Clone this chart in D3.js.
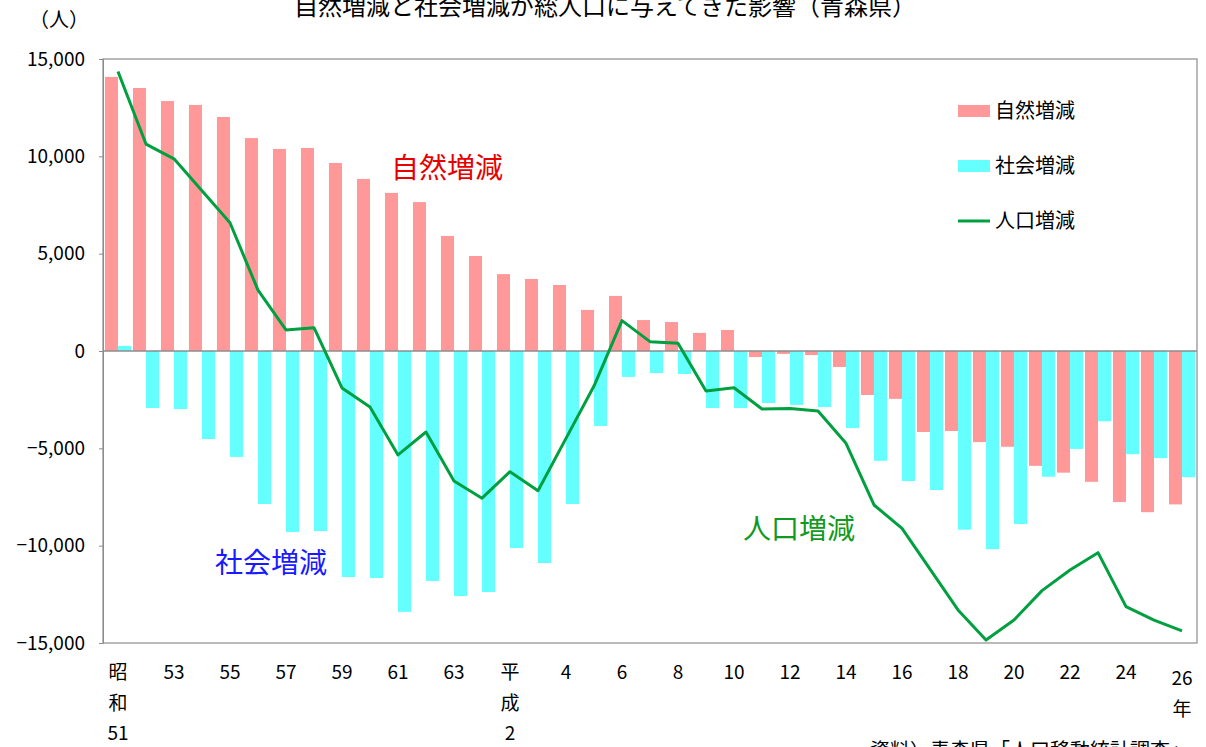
<!DOCTYPE html>
<html><head><meta charset="utf-8">
<script src="https://cdn.jsdelivr.net/npm/d3@7"></script>
<style>body{margin:0;background:#fff}svg{display:block}text{font-family:"Noto Sans CJK JP","Noto Sans",sans-serif}</style>
</head><body><svg id="c" width="1206" height="747"></svg>
<script>
const years = ["S51","S52","S53","S54","S55","S56","S57","S58","S59","S60","S61","S62","S63","H1","H2","H3","H4","H5","H6","H7","H8","H9","H10","H11","H12","H13","H14","H15","H16","H17","H18","H19","H20","H21","H22","H23","H24","H25","H26"];
const natural = [14080,13510,12840,12640,12020,10940,10380,10430,9660,8840,8120,7650,5910,4880,3950,3700,3390,2110,2830,1590,1490,930,1080,-310,-150,-210,-820,-2260,-2460,-4160,-4110,-4680,-4920,-5900,-6250,-6720,-7760,-8280,-7880];
const social = [260,-2930,-2980,-4520,-5440,-7860,-9300,-9250,-11610,-11660,-13400,-11810,-12590,-12380,-10120,-10890,-7860,-3850,-1330,-1130,-1180,-2930,-2930,-2670,-2770,-2880,-3960,-5640,-6680,-7140,-9180,-10180,-8890,-6460,-5030,-3610,-5300,-5500,-6480];
const total = [14360,10630,9870,8230,6590,3130,1080,1200,-1900,-2880,-5340,-4160,-6680,-7560,-6200,-7180,-4490,-1800,1560,480,400,-2060,-1890,-2980,-2950,-3080,-4740,-7910,-9110,-11200,-13300,-14850,-13820,-12310,-11250,-10360,-13130,-13820,-14380];
const xTickLabels = [[0,["昭","和","51"]],[2,["53"]],[4,["55"]],[6,["57"]],[8,["59"]],[10,["61"]],[12,["63"]],[14,["平","成","2"]],[16,["4"]],[18,["6"]],[20,["8"]],[22,["10"]],[24,["12"]],[26,["14"]],[28,["16"]],[30,["18"]],[32,["20"]],[34,["22"]],[36,["24"]],[38,["26","年"]]];
const yTicks = [-15000,-10000,-5000,0,5000,10000,15000];
const seriesNames = ["自然増減","社会増減","人口増減"];
const colors = {nat:"#ff9999", soc:"#66ffff", line:"#00a040"};

const svg = d3.select("#c");
const L=103,R=1197,T=59,B=643;
const idx = d3.range(years.length);
const x = d3.scaleBand().domain(idx).range([L,R]).padding(0.07);
const xs = d3.scaleBand().domain(["nat","soc"]).range([0,x.bandwidth()]);
const y = d3.scaleLinear().domain([-15000,15000]).range([B,T]);

// plot frame
svg.append("rect").attr("x",L).attr("y",T).attr("width",R-L).attr("height",B-T)
  .attr("fill","none").attr("stroke","#8c8c8c").attr("stroke-width",1.2);

// y axis
const yAxis = d3.axisLeft(y).tickValues(yTicks).tickFormat(d3.format(",")).tickSize(4).tickPadding(14);
const ga = svg.append("g").attr("transform",`translate(${L},0)`).call(yAxis);
ga.select(".domain").attr("stroke","#8c8c8c");
ga.selectAll(".tick line").attr("stroke","#8c8c8c");
ga.selectAll("text").attr("font-size",19).attr("fill","#000").attr("font-family","'Liberation Sans',Arial,sans-serif");

// bars
const g = svg.append("g");
g.selectAll(".n").data(idx).join("rect")
  .attr("x",i=>x(i)+xs("nat")).attr("width",xs.bandwidth())
  .attr("y",i=>y(Math.max(0,natural[i]))).attr("height",i=>Math.abs(y(natural[i])-y(0)))
  .attr("fill",colors.nat);
g.selectAll(".s").data(idx).join("rect")
  .attr("x",i=>x(i)+xs("soc")).attr("width",xs.bandwidth())
  .attr("y",i=>y(Math.max(0,social[i]))).attr("height",i=>Math.abs(y(social[i])-y(0)))
  .attr("fill",colors.soc);

// zero line
svg.append("line").attr("x1",L).attr("x2",R).attr("y1",y(0)).attr("y2",y(0))
  .attr("stroke","#8c8c8c").attr("stroke-width",1.5);

// line
const line = d3.line().x(i=>x(i)+x.bandwidth()/2).y(i=>y(total[i]));
svg.append("path").datum(idx).attr("d",line).attr("fill","none")
  .attr("stroke",colors.line).attr("stroke-width",3).attr("stroke-linejoin","round");

// x tick labels
xTickLabels.forEach(([i,parts])=>{
  const cx = x(i)+x.bandwidth()/2;
  const t = svg.append("text").attr("x",cx).attr("text-anchor","middle").attr("font-size",19).attr("fill","#000");
  parts.forEach((p,k)=>{
    t.append("tspan").attr("x",cx).attr("y",(i===38?685:679)+k*30.5).text(p);
  });
});

// title and unit
svg.append("text").attr("x",605).attr("y",15).attr("text-anchor","middle").attr("font-size",24).attr("fill","#000")
  .text("自然増減と社会増減が総人口に与えてきた影響（青森県）");
svg.append("text").attr("x",59).attr("y",27).attr("text-anchor","middle").attr("font-size",20).attr("fill","#000").text("（人）");
svg.append("text").attr("x",870).attr("y",758).attr("font-size",20).attr("fill","#000").text("資料）青森県「人口移動統計調査」");

// annotations
svg.append("text").attr("x",447).attr("y",178).attr("text-anchor","middle").attr("font-size",28).attr("fill","#e60000").text(seriesNames[0]);
svg.append("text").attr("x",271).attr("y",573).attr("text-anchor","middle").attr("font-size",28).attr("fill","#1a1aff").text(seriesNames[1]);
svg.append("text").attr("x",799).attr("y",539).attr("text-anchor","middle").attr("font-size",28).attr("fill","#119922").text(seriesNames[2]);

// legend
const lg = svg.append("g");
const ly = [111,166,221];
lg.append("rect").attr("x",958).attr("y",ly[0]-6).attr("width",32).attr("height",12).attr("fill",colors.nat);
lg.append("rect").attr("x",958).attr("y",ly[1]-6).attr("width",32).attr("height",12).attr("fill",colors.soc);
lg.append("line").attr("x1",958).attr("x2",990).attr("y1",ly[2]).attr("y2",ly[2]).attr("stroke",colors.line).attr("stroke-width",3);
seriesNames.forEach((n,k)=>{
  lg.append("text").attr("x",995).attr("y",ly[k]+7).attr("font-size",20).attr("fill","#000").text(n);
});
</script></body></html>
